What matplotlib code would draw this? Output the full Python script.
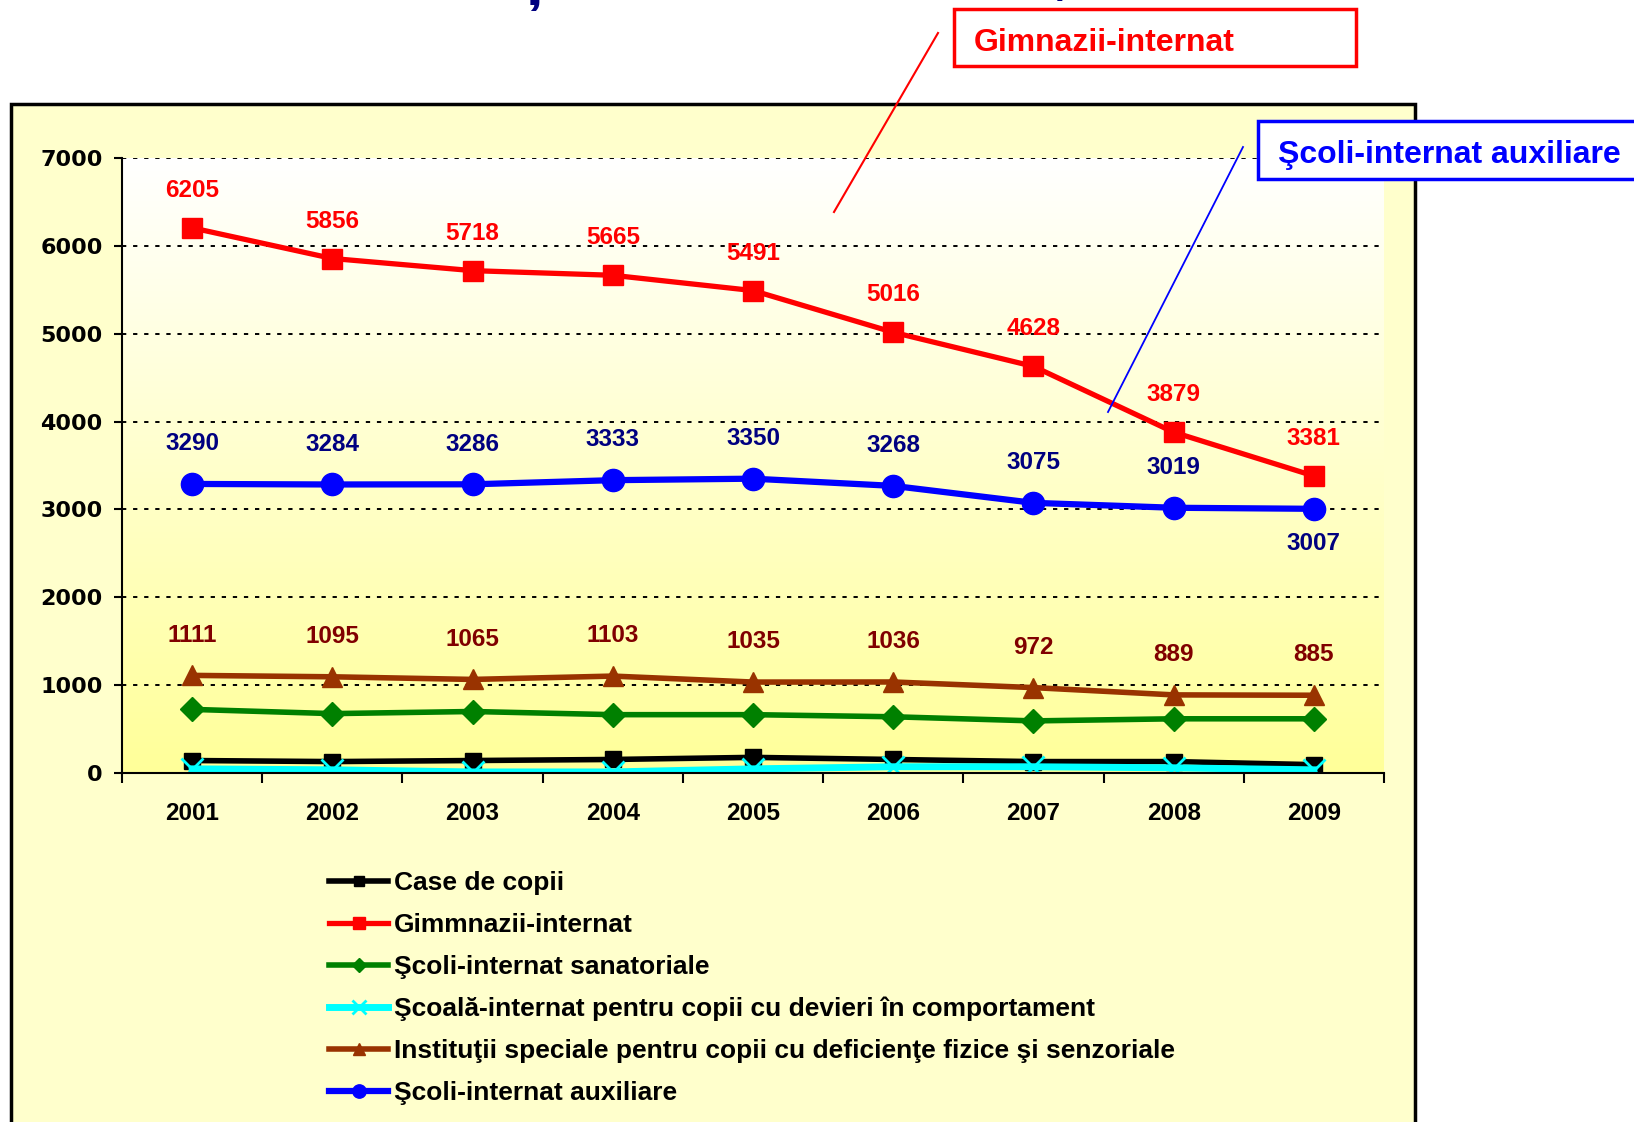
import matplotlib
matplotlib.use("Agg")
import matplotlib.pyplot as plt
import numpy as np
from matplotlib import font_manager
from matplotlib.patches import Rectangle
from matplotlib.lines import Line2D
from matplotlib.colors import LinearSegmentedColormap

years = ["2001", "2002", "2003", "2004", "2005", "2006", "2007", "2008", "2009"]
case_copii = [142, 130, 142, 154, 178, 154, 130, 130, 95]
gimnazii = [6205, 5856, 5718, 5665, 5491, 5016, 4628, 3879, 3381]
sanatoriale = [724, 676, 700, 664, 664, 640, 593, 617, 617]
devieri = [47, 36, 12, 12, 47, 71, 71, 59, 36]
speciale = [1111, 1095, 1065, 1103, 1035, 1036, 972, 889, 885]
auxiliare = [3290, 3284, 3286, 3333, 3350, 3268, 3075, 3019, 3007]
labels = ["Case de copii", "Gimmnazii-internat", "Şcoli-internat sanatoriale",
          "Şcoală-internat pentru copii cu devieri în comportament",
          "Instituţii speciale pentru copii cu deficienţe fizice şi senzoriale",
          "Şcoli-internat auxiliare"]
yticks = [0, 1000, 2000, 3000, 4000, 5000, 6000, 7000]

W, H = 1634, 1122
names = {f.name for f in font_manager.fontManager.ttflist}
narrow = "Liberation Sans Narrow" if "Liberation Sans Narrow" in names else None

def fx(p):
    return p / W

def fy(p):
    return 1 - p / H

fig = plt.figure(figsize=(W / 100, H / 100), dpi=100, facecolor="white")

# outer frame
fig.patches.append(Rectangle((fx(10.5), fy(1135)), fx(1415) - fx(10.5), fy(104) - fy(1135),
                             transform=fig.transFigure, facecolor="#FFFFCC",
                             edgecolor="black", lw=2.5, zorder=-5))

ax = fig.add_axes([fx(122), fy(773), fx(1384) - fx(122), fy(158) - fy(773)])
ax.set_zorder(1)
ax.patch.set_visible(False)

x = np.arange(len(years))
cmap = LinearSegmentedColormap.from_list("g", ["#FFFFFF", "#FFFF99"])
grad = np.linspace(0, 1, 256).reshape(-1, 1)
ax.imshow(grad, extent=[-0.5, 8.5, 0, 7000], aspect="auto", cmap=cmap,
          origin="upper", zorder=0)

ax.plot(x, case_copii, color="black", lw=4, marker="s", ms=11, label=labels[0], zorder=3)
ax.plot(x, gimnazii, color="#FF0000", lw=3.8, marker="s", ms=14, label=labels[1], zorder=3)
ax.plot(x, sanatoriale, color="#008000", lw=4, marker="D", ms=12, label=labels[2], zorder=3)
ax.plot(x, devieri, color="#00FFFF", lw=5, marker="x", ms=16, mew=2, label=labels[3], zorder=3)
ax.plot(x, speciale, color="#993300", lw=4, marker="^", ms=15, label=labels[4], zorder=3)
ax.plot(x, auxiliare, color="#0000FF", lw=4.5, marker="o", ms=16, label=labels[5], zorder=3)

lab_font = dict(family=["Liberation Sans", "DejaVu Sans"], fontweight="bold", fontsize=17.5)
for i in range(len(years)):
    ax.annotate(str(gimnazii[i]), (x[i], gimnazii[i]), xytext=(0, 27), textcoords="offset points",
                ha="center", va="center", color="#FF0000", **lab_font)
    off = -25 if i == len(years) - 1 else 29
    ax.annotate(str(auxiliare[i]), (x[i], auxiliare[i]), xytext=(0, off), textcoords="offset points",
                ha="center", va="center", color="#000080", **lab_font)
    ax.annotate(str(speciale[i]), (x[i], speciale[i]), xytext=(0, 29), textcoords="offset points",
                ha="center", va="center", color="#800000", **lab_font)

ax.set_xlim(-0.5, 8.5)
ax.set_ylim(0, 7000)
ax.set_yticks(yticks)
ax.set_yticklabels([str(v) for v in yticks], fontfamily="DejaVu Sans", fontweight="bold", fontsize=16)
ax.set_xticks(np.arange(-0.5, 9, 1))
ax.set_xticklabels([])
ax.set_xticks(x, minor=True)
if narrow:
    ax.set_xticklabels(years, minor=True, fontfamily=narrow, fontweight="bold", fontsize=20)
else:
    ax.set_xticklabels(years, minor=True, fontfamily="Liberation Sans", fontweight="bold", fontsize=17.5)
ax.tick_params(axis="x", which="major", direction="out", length=7, width=1.5, color="black")
ax.tick_params(axis="x", which="minor", length=0, pad=21)
ax.tick_params(axis="y", direction="out", length=6, width=1.5, pad=8)
ax.yaxis.grid(True, linestyle=(0, (2.2, 3.5)), color="black", lw=1.4)
ax.set_axisbelow(False)
for s in ["top", "right"]:
    ax.spines[s].set_visible(False)
for s in ["left", "bottom"]:
    ax.spines[s].set_linewidth(1.5)
    ax.spines[s].set_zorder(4)

leg_fam = narrow if narrow else "Liberation Sans"
leg_size = 21 if narrow else 19
leg = ax.legend(loc="upper left", bbox_to_anchor=(fx(329), fy(871)), bbox_transform=fig.transFigure,
                frameon=False, handlelength=2.25, handletextpad=0.2, labelspacing=0.68,
                markerscale=0.6, prop=dict(family=leg_fam, weight="bold", size=leg_size),
                borderaxespad=0, borderpad=0)

# callout boxes
fig.patches.append(Rectangle((fx(954), fy(66)), fx(1356) - fx(954), fy(9) - fy(66),
                             transform=fig.transFigure, facecolor="white", edgecolor="#FF0000",
                             lw=2.5, zorder=5))
fig.text(fx(974), fy(43), "Gimnazii-internat", color="#FF0000", fontsize=23, fontweight="bold",
         family="Liberation Sans", va="center", ha="left", zorder=6)
fig.lines.append(Line2D([fx(938), fx(834)], [fy(33), fy(212)], transform=fig.transFigure,
                        color="#FF0000", lw=1.5, zorder=6))

fig.patches.append(Rectangle((fx(1258), fy(179)), fx(1645) - fx(1258), fy(121) - fy(179),
                             transform=fig.transFigure, facecolor="white", edgecolor="#0000FF",
                             lw=2.5, zorder=5))
fig.text(fx(1278), fy(155), "Şcoli-internat auxiliare", color="#0000FF", fontsize=23,
         fontweight="bold", family="Liberation Sans", va="center", ha="left", zorder=6)
fig.lines.append(Line2D([fx(1243), fx(1108)], [fy(147), fy(412)], transform=fig.transFigure,
                        color="#0000FF", lw=1.3, zorder=6))

# clipped fragments of the title above the image
fig.text(fx(512), fy(-6), "ș", color="#000080", fontsize=54, fontweight="bold",
         family="Liberation Sans", va="baseline", ha="left")
fig.text(fx(1038), fy(-16), "ș", color="#000080", fontsize=54, fontweight="bold",
         family="Liberation Sans", va="baseline", ha="left")

fig.savefig("out.png", dpi=100, facecolor="white")
